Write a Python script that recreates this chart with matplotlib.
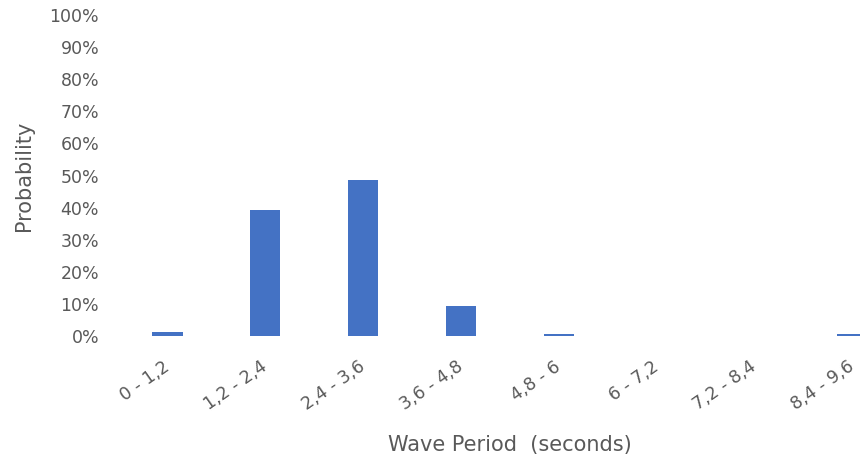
import matplotlib.pyplot as plt
from matplotlib.ticker import PercentFormatter

# Data
periods = ["0 - 1,2", "1,2 - 2,4", "2,4 - 3,6", "3,6 - 4,8",
           "4,8 - 6", "6 - 7,2", "7,2 - 8,4", "8,4 - 9,6"]
probability = [1.2, 39.2, 48.5, 9.3, 0.6, 0.0, 0.0, 0.6]

plt.rcParams["font.family"] = ["DejaVu Sans"]
grey = "#595959"

fig = plt.figure(figsize=(8.6, 4.63), dpi=100)
ax = fig.add_axes([0.1379, 0.2743, 0.9098, 0.6933])

x = range(len(periods))
ax.bar(x, probability, width=0.31, color="#4472C4")

ax.set_xlim(-0.5, len(periods) - 0.5)
ax.set_ylim(0, 100)
ax.set_yticks(range(0, 101, 10))
ax.yaxis.set_major_formatter(PercentFormatter(decimals=0))
ax.set_xticks(list(x))
ax.set_xticklabels(periods, rotation=35, ha="right", va="center",
                   rotation_mode="anchor")

for s in ax.spines.values():
    s.set_visible(False)
ax.tick_params(axis="both", length=0, colors=grey, labelsize=12.5)
ax.tick_params(axis="y", pad=14)
ax.tick_params(axis="x", pad=21)

ax.set_ylabel("Probability", fontsize=15, color=grey, labelpad=11)
ax.set_xlabel("Wave Period  (seconds)", fontsize=15, color=grey, labelpad=15)

fig.savefig("out.png", dpi=100)
